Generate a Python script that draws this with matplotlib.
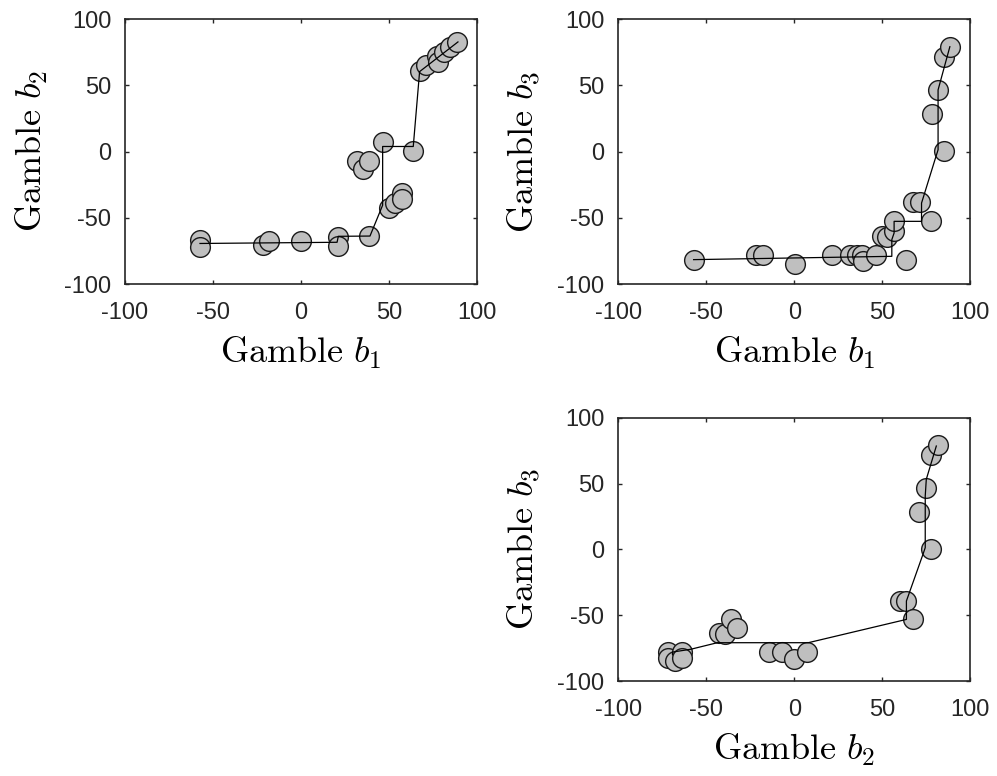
import matplotlib
matplotlib.use("Agg")
import matplotlib.pyplot as plt

plt.rcParams["mathtext.fontset"] = "cm"

# Panel 1: gamble b1 vs gamble b2
b1_p1 = [-57.4, -57.4, -21.8, -18.0, 0.0, 21.2, 21.2, 38.8, 31.6, 35.4, 38.4, 46.4,
         50.2, 53.4, 57.2, 57.2, 63.8, 67.4, 71.0, 77.1, 78.0, 81.4, 84.7, 88.8]
b2_p1 = [-66.7, -71.7, -70.9, -67.9, -67.9, -64.2, -71.2, -63.6, -6.8, -13.3, -6.8, 7.5,
         -43.0, -39.0, -31.4, -35.9, 0.2, 60.8, 65.0, 72.2, 67.9, 75.4, 79.2, 82.7]
fit1_x = [-57.4, 20.5, 21.2, 39.2, 46.4, 46.4, 63.8, 67.4, 89.2]
fit1_y = [-69.4, -68.5, -64.0, -63.8, -40.5, 3.8, 3.8, 60.3, 82.7]

# Panel 2: gamble b1 vs gamble b3
b1_p2 = [-57.2, -21.9, -17.5, 0.2, 21.5, 31.5, 35.7, 38.5, 38.9, 46.4, 49.8, 52.6,
         56.8, 56.8, 63.6, 67.6, 71.5, 77.7, 78.1, 81.9, 85.2, 85.2, 88.5]
b3_p2 = [-82.2, -78.4, -78.4, -84.7, -77.9, -78.4, -78.4, -78.4, -82.9, -78.4, -64.0, -64.8,
         -60.3, -52.3, -81.7, -38.4, -38.4, -52.8, 28.3, 46.5, 0.3, 71.6, 78.9]
fit2_x = [-57.2, 55.5, 55.5, 56.8, 56.8, 72.4, 72.4, 80.0, 81.8, 81.8, 88.5]
fit2_y = [-81.6, -79.1, -66.5, -61.5, -52.7, -52.7, -38.9, -6.3, 1.3, 46.5, 79.1]

# Panel 3: gamble b2 vs gamble b3
b2_p3 = [-71.9, -71.8, -67.6, -63.9, -64.0, -42.5, -39.1, -36.1, -32.5, -14.2, -7.2, -0.2,
         7.0, 60.0, 63.7, 67.3, 71.1, 74.8, 77.8, 77.8, 81.8]
b3_p3 = [-78.0, -82.6, -85.0, -77.8, -82.8, -63.6, -64.6, -53.2, -59.8, -77.9, -77.9, -83.2,
         -77.9, -38.9, -38.9, -53.2, 28.7, 46.8, 0.5, 71.8, 79.5]
fit3_x = [-69.2, -69.2, -58.9, -43.7, 8.0, 63.8, 63.8, 73.2, 74.5, 74.5, 75.1, 80.8]
fit3_y = [-79.7, -78.0, -75.9, -70.9, -70.9, -53.2, -39.2, -3.8, 1.3, 40.5, 53.2, 78.5]

ticks = [-100, -50, 0, 50, 100]
tick_labels = ["-100", "-50", "0", "50", "100"]

panels = [
    ([0.1254, 0.634, 0.353, 0.3415], b1_p1, b2_p1, fit1_x, fit1_y,
     r"$\mathrm{Gamble}\ b_1$", r"$\mathrm{Gamble}\ b_2$"),
    ([0.6202, 0.634, 0.3528, 0.3415], b1_p2, b3_p2, fit2_x, fit2_y,
     r"$\mathrm{Gamble}\ b_1$", r"$\mathrm{Gamble}\ b_3$"),
    ([0.6202, 0.1224, 0.3528, 0.3393], b2_p3, b3_p3, fit3_x, fit3_y,
     r"$\mathrm{Gamble}\ b_2$", r"$\mathrm{Gamble}\ b_3$"),
]

fig = plt.figure(figsize=(9.97, 7.76), dpi=100)

for rect, xs, ys, fx, fy, xlab, ylab in panels:
    ax = fig.add_axes(rect)
    ax.plot(xs, ys, linestyle="none", marker="o", markersize=14.2,
            markerfacecolor="#bfbfbf", markeredgecolor="#1a1a1a",
            markeredgewidth=1.0, zorder=2)
    ax.plot(fx, fy, color="black", linewidth=0.9, zorder=3)
    ax.set_xlim(-100, 100)
    ax.set_ylim(-100, 100)
    ax.set_xticks(ticks)
    ax.set_yticks(ticks)
    ax.set_xticklabels(tick_labels, family="Liberation Sans", fontsize=17)
    ax.set_yticklabels(tick_labels, family="Liberation Sans", fontsize=17)
    ax.tick_params(direction="in", length=3.2, width=1.0, top=True, right=True,
                   color="#262626", labelcolor="#262626")
    ax.tick_params(axis="x", pad=13)
    ax.tick_params(axis="y", pad=10)
    for sp in ax.spines.values():
        sp.set_linewidth(1.2)
        sp.set_color("#262626")
    ax.set_xlabel(xlab, fontsize=26, labelpad=8)
    ax.set_ylabel(ylab, fontsize=26, labelpad=10)

fig.savefig("out.png", dpi=100)
